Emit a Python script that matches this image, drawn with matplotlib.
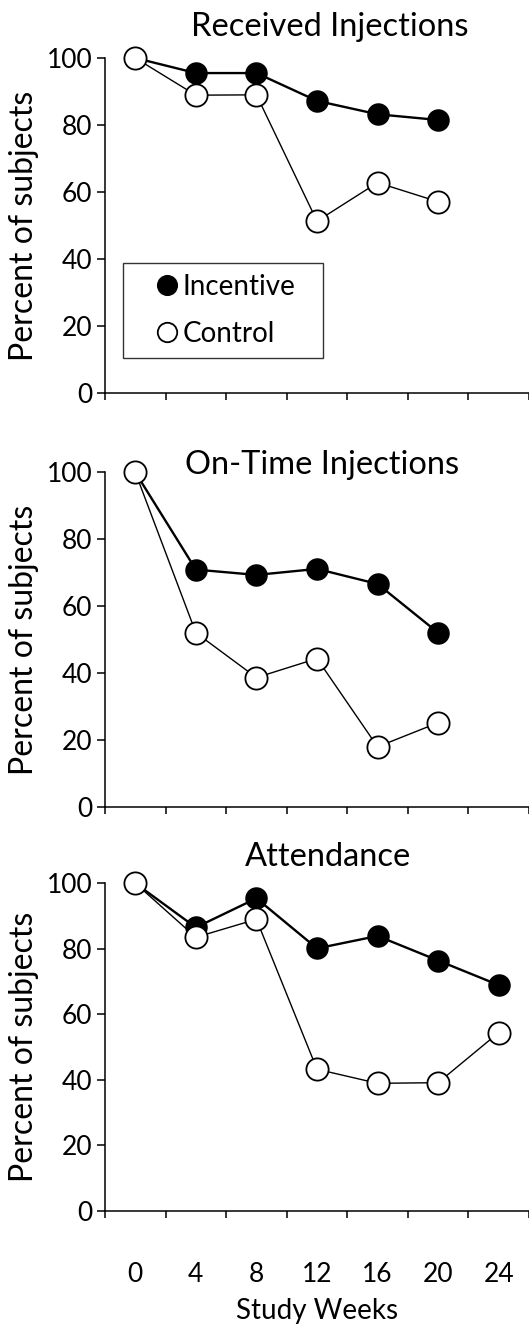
import matplotlib
matplotlib.use("Agg")
import matplotlib.pyplot as plt
from matplotlib.lines import Line2D
import numpy as np

plt.rcParams['font.family'] = ['Lato', 'DejaVu Sans']

# data
weeks = ["0", "4", "8", "12", "16", "20", "24"]

recv_incentive = [100, 95.5, 95.5, 87.2, 83.2, 81.5]
recv_control   = [100, 88.9, 89.0, 51.3, 62.8, 57.1]

ontime_incentive = [100, 70.9, 69.3, 71.1, 66.6, 52.0]
ontime_control   = [100, 52.0, 38.6, 44.3, 17.9, 25.1]

attend_incentive = [100, 86.5, 95.4, 80.1, 83.9, 76.4, 68.9]
attend_control   = [100, 83.5, 89.0, 43.2, 38.9, 39.1, 54.4]

titles = ["Received Injections", "On-Time Injections", "Attendance"]
title_pos = [(0.531, 1.092), (0.512, 1.022), (0.526, 1.080)]

fig = plt.figure(figsize=(5.29, 13.3), dpi=100)

# axes rectangles [left, bottom, width, height] in figure fraction
rects = [
    [0.1985, 0.7045, 0.8015, 0.2519],
    [0.1985, 0.3935, 0.8015, 0.2514],
    [0.1985, 0.0897, 0.8015, 0.2462],
]

series = [
    (recv_incentive, recv_control),
    (ontime_incentive, ontime_control),
    (attend_incentive, attend_control),
]

for i, (rect, (inc, ctl)) in enumerate(zip(rects, series)):
    ax = fig.add_axes(rect)
    xi = np.arange(len(inc))
    xc = np.arange(len(ctl))
    ax.plot(xi, inc, color='black', lw=1.7, marker='o', ms=15,
            mfc='black', mec='black', mew=1.2, clip_on=False, zorder=3)
    ax.plot(xc, ctl, color='black', lw=1.0, marker='o', ms=16,
            mfc='white', mec='black', mew=1.3, clip_on=False, zorder=4)

    ax.set_xlim(-0.5, 6.5)
    ax.set_ylim(0, 100)
    ax.set_yticks([0, 20, 40, 60, 80, 100])
    ax.tick_params(axis='y', labelsize=19, length=6, width=1.1, direction='out', pad=3)
    ax.set_xticks(np.arange(-0.5, 7.0, 1.0))
    ax.set_xticklabels([])
    ax.tick_params(axis='x', length=5, width=1.1, direction='out')
    for s in ['top', 'right']:
        ax.spines[s].set_visible(False)
    for s in ['left', 'bottom']:
        ax.spines[s].set_linewidth(1.1)

    ax.set_ylabel("Percent of subjects", fontsize=23)
    ax.yaxis.set_label_coords(-0.155, 0.5)

    ax.text(title_pos[i][0], title_pos[i][1], titles[i], transform=ax.transAxes,
            ha='center', va='center', fontsize=23.5)

    if i == 0:
        # legend shows markers only
        handles = [
            Line2D([], [], ls='none', marker='o', ms=14, mfc='black', mec='black', mew=1.2),
            Line2D([], [], ls='none', marker='o', ms=14, mfc='white', mec='black', mew=1.3),
        ]
        leg = ax.legend(handles, ['Incentive', 'Control'],
                        loc='lower left', bbox_to_anchor=(0.0425, 0.1045, 0.472, 0.28),
                        mode='expand', fontsize=20,
                        frameon=True, fancybox=False, edgecolor='black',
                        handlelength=2.4, handletextpad=-0.65, borderpad=0.4,
                        labelspacing=0.75, borderaxespad=0)
        leg.get_frame().set_linewidth(1.0)

    if i == 2:
        ax.set_xticks(np.arange(len(weeks)), minor=True)
        ax.set_xticklabels(weeks, minor=True)
        ax.tick_params(axis='x', which='minor', length=0, labelsize=19, pad=37)
        ax.set_xlabel("Study Weeks", fontsize=20, labelpad=8)

fig.savefig("out.png", dpi=100)
